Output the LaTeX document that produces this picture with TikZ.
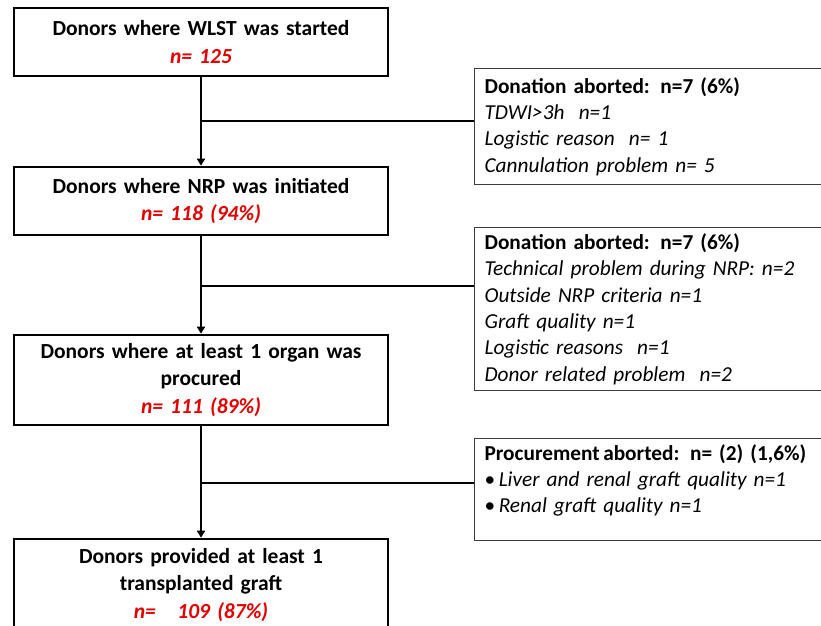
\documentclass[tikz,border=0pt]{standalone}
\usepackage{fontspec}
\setmainfont{Carlito}
\usepackage{tikz}
\usetikzlibrary{arrows.meta}
\definecolor{nred}{RGB}{226,0,0}
\definecolor{edge}{RGB}{60,60,60}

\begin{document}
\begin{tikzpicture}[x=1pt,y=-1pt,
    mainbox/.style={draw, line width=2.6pt, minimum width=374pt, text width=360pt,
      align=center, inner sep=0pt, font=\fontsize{21.5}{27.5}\selectfont\bfseries},
    sidebox/.style={draw=edge, line width=1.2pt, anchor=north west, minimum width=360pt,
      text width=340pt, align=left, inner xsep=9pt, font=\fontsize{21.3}{26.3}\selectfont},
    flow/.style={line width=2.4pt, -{Triangle[length=7pt,width=8pt]}},
    branch/.style={line width=2.2pt}]
    \useasboundingbox (0,0) rectangle (821,625);
    \clip (0,0) rectangle (821,625);

    % Main flow: donors at each stage
    \node[mainbox, minimum height=68pt] (wlst) at (201,42)
      {Donors where WLST was started\\ \textcolor{nred}{\textit{n= 125}}};
    \node[mainbox, minimum height=68pt] (nrp) at (201,201)
      {Donors where NRP was initiated\\ \textcolor{nred}{\textit{n= 118 (94\%)}}};
    \node[mainbox, minimum height=90pt] (organ) at (201,380)
      {Donors where at least 1 organ was\\ procured\\ \textcolor{nred}{\textit{n= 111 (89\%)}}};
    \node[mainbox, minimum height=92pt] (graft) at (201,585)
      {Donors provided at least 1\\ transplanted graft\\ \textcolor{nred}{\textit{n=\ \ \ 109 (87\%)}}};

    % Side boxes: reasons for dropping out
    \node[sidebox, minimum height=116pt] (abort1) at (474,68)
      {\textbf{Donation aborted: n=7 (6\%)}\\
       \textit{TDWI>3h\ \ n=1}\\
       \textit{Logistic reason\ \ n= 1}\\
       \textit{Cannulation problem n= 5}};
    \node[sidebox, minimum height=163pt] (abort2) at (474,227)
      {\textbf{Donation aborted: n=7 (6\%)}\\
       \textit{Technical problem during NRP: n=2}\\
       \textit{Outside NRP criteria n=1}\\
       \textit{Graft quality n=1}\\
       \textit{Logistic reasons\ \ n=1}\\
       \textit{Donor related problem\ \ n=2}};
    \node[sidebox, minimum height=102pt] (abort3) at (474,438)
      {\textbf{Procurement\,aborted: n= (2) (1,6\%)}\\
       •\,\textit{Liver and renal graft quality n=1}\\
       •\,\textit{Renal graft quality n=1}\\[-4pt]
       \mbox{}};

    % Arrows down the main column
    \draw[flow] (wlst) -- (nrp);
    \draw[flow] (nrp) -- (organ);
    \draw[flow] (organ) -- (graft);

    % Branches to the side boxes
    \coordinate (j1) at (201,121);
    \coordinate (j2) at (201,286);
    \coordinate (j3) at (201,483);
    \draw[branch] (j1) -- (j1 -| abort1.west);
    \draw[branch] (j2) -- (j2 -| abort2.west);
    \draw[branch] (j3) -- (j3 -| abort3.west);
\end{tikzpicture}
\end{document}
